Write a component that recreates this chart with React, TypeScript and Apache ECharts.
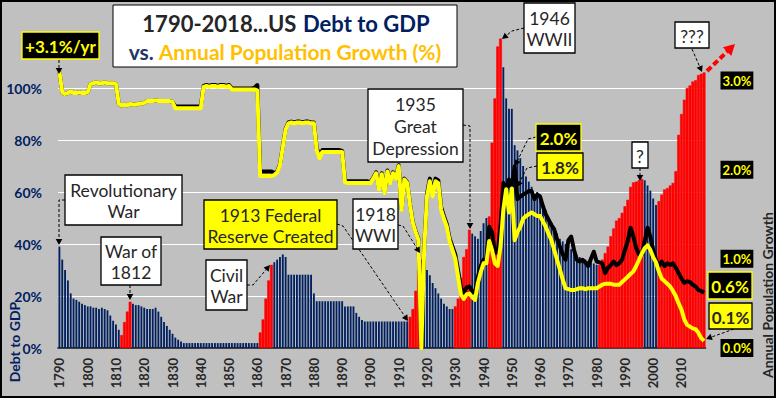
import React, { useEffect, useRef } from 'react';
import * as echarts from 'echarts';

const FIRST_YEAR = 1790;
const LAST_YEAR = 2018;
const years: string[] = [];
for (let y = FIRST_YEAR; y <= LAST_YEAR; y++) years.push(String(y));

// Debt to GDP (%), 1790-2018, one value per year
const debtToGdp: number[] = [
  39, 34, 30, 26, 21, 19, 18.5, 17.8, 17, 16.5, // 1790s
  16, 16, 15.5, 15.5, 15, 15.5, 15, 14.5, 12.5, 10.5, // 1800s
  9, 7, 5, 10, 14, 17.8, 17, 16.5, 16.5, 16, // 1810s
  15.5, 15, 15, 15, 15.5, 14, 12, 10, 8.5, 7, // 1820s
  5.5, 4, 3.2, 2.5, 1.9, 1.9, 1.9, 1.9, 1.9, 1.9, // 1830s
  1.9, 1.9, 1.9, 1.9, 1.9, 1.9, 1.9, 1.9, 1.9, 1.9, // 1840s
  1.9, 1.9, 1.9, 1.9, 1.9, 1.9, 1.9, 1.9, 1.9, 1.9, // 1850s
  1.9, 6, 11, 19, 26, 32, 33, 34, 35, 36, // 1860s
  35, 28.2, 28.2, 28.2, 28.2, 28.2, 28.2, 28.2, 28.2, 28.2, // 1870s
  21, 18, 18, 18, 18, 18, 18, 18, 18, 18, // 1880s
  18, 16, 16, 16, 16, 13.5, 12, 10.8, 10.2, 10.2, // 1890s
  10.2, 10.2, 10.2, 10.2, 10.2, 10.2, 10.2, 10.2, 10.2, 10.2, // 1900s
  10.2, 10.2, 10.2, 10.2, 12, 15, 22, 30, 34, 32, // 1910s
  30, 28, 25, 23, 21, 19, 17, 16, 15, 15, // 1920s
  16, 19, 27, 35, 38, 45.5, 44, 43, 42, 45, // 1930s
  48, 50, 50.6, 79, 96, 116, 119, 108, 96, 92, // 1940s
  92, 78, 76, 73, 70, 66, 64, 62, 59, 60, // 1950s
  59, 55, 53, 50, 48, 46, 44, 42, 41, 40, // 1960s
  39, 38, 36.5, 35.5, 35, 34.5, 34, 33.5, 33, 32.5, // 1970s
  32, 32, 34, 36.5, 39, 43, 46, 49, 50, 52, // 1980s
  54.5, 57, 62, 63.7, 64, 64.5, 65, 64.5, 62.5, 60.5, // 1990s
  57.5, 55, 56.5, 59, 61, 61.5, 62.5, 63.5, 68, 82, // 2000s
  90, 95.5, 100, 101, 102.5, 103, 105, 105.5, 106, // 2010s
];

// periods whose bars are drawn in red
const redPeriods: [number, number][] = [
  [1812, 1815], [1861, 1865], [1914, 1918], [1930, 1935], [1942, 1946], [1981, 1996], [2002, 2018],
];

// Annual population growth (%), yellow line
const popGrowth: number[] = [
  3.1, 2.87, 2.85, 2.86, 2.88, 2.86, 2.86, 2.87, 2.86, 2.86, // 1790s
  2.87, 2.96, 2.97, 2.98, 2.97, 2.97, 2.98, 2.97, 2.97, 2.97, // 1800s
  2.96, 2.74, 2.72, 2.73, 2.72, 2.74, 2.73, 2.73, 2.74, 2.74, // 1810s
  2.75, 2.77, 2.77, 2.77, 2.78, 2.77, 2.77, 2.77, 2.77, 2.77, // 1820s
  2.76, 2.69, 2.69, 2.69, 2.69, 2.69, 2.69, 2.69, 2.69, 2.69, // 1830s
  2.69, 2.93, 2.94, 2.93, 2.94, 2.94, 2.93, 2.94, 2.94, 2.93, // 1840s
  2.94, 2.9, 2.9, 2.9, 2.9, 2.9, 2.9, 2.9, 2.9, 2.9, // 1850s
  2.89, 1.93, 1.93, 1.93, 1.93, 1.93, 1.94, 1.97, 2.05, 2.25, // 1860s
  2.45, 2.52, 2.53, 2.52, 2.53, 2.53, 2.52, 2.53, 2.53, 2.52, // 1870s
  2.52, 2.22, 2.13, 2.2, 2.2, 2.2, 2.2, 2.2, 2.2, 2.2, // 1880s
  2.2, 1.86, 1.85, 1.85, 1.85, 1.85, 1.85, 1.85, 1.85, 1.85, // 1890s
  1.85, 1.9, 1.96, 1.78, 1.95, 1.74, 1.98, 1.85, 1.96, 1.9, // 1900s
  2.04, 1.55, 1.89, 1.85, 1.6, 1.4, 1.3, 1.21, 0.0, 1.1, // 1910s
  1.7, 1.87, 1.7, 1.87, 1.85, 1.55, 1.45, 1.36, 1.2, 1.1, // 1920s
  1.0, 0.8, 0.6, 0.55, 0.6, 0.61, 0.57, 0.54, 0.73, 0.85, // 1930s
  0.95, 0.95, 1.2, 1.1, 0.95, 0.92, 1.14, 1.55, 1.78, 1.52, // 1940s
  1.79, 1.21, 1.3, 1.36, 1.45, 1.48, 1.5, 1.52, 1.5, 1.48, // 1950s
  1.48, 1.42, 1.36, 1.28, 1.21, 1.1, 0.99, 0.88, 0.77, 0.67, // 1960s
  0.66, 0.65, 0.65, 0.66, 0.67, 0.67, 0.66, 0.67, 0.67, 0.67, // 1970s
  0.67, 0.69, 0.71, 0.72, 0.72, 0.72, 0.71, 0.71, 0.71, 0.74, // 1980s
  0.77, 0.8, 0.83, 0.86, 0.92, 0.99, 1.06, 1.12, 1.15, 1.1, // 1990s
  1.02, 0.96, 0.86, 0.78, 0.75, 0.72, 0.69, 0.64, 0.58, 0.5, // 2000s
  0.43, 0.32, 0.26, 0.24, 0.22, 0.21, 0.17, 0.11, 0.08, // 2010s
];

// second growth series, black line
const blackGrowth: number[] = [
  3.1, 2.87, 2.85, 2.86, 2.88, 2.86, 2.86, 2.87, 2.86, 2.86, // 1790s
  2.87, 2.96, 2.97, 2.98, 2.97, 2.97, 2.98, 2.97, 2.97, 2.97, // 1800s
  2.96, 2.74, 2.72, 2.73, 2.72, 2.74, 2.73, 2.73, 2.74, 2.74, // 1810s
  2.75, 2.77, 2.77, 2.77, 2.78, 2.77, 2.77, 2.77, 2.77, 2.77, // 1820s
  2.76, 2.71, 2.71, 2.71, 2.71, 2.71, 2.71, 2.71, 2.71, 2.71, // 1830s
  2.71, 2.94, 2.95, 2.94, 2.95, 2.95, 2.94, 2.95, 2.95, 2.94, // 1840s
  2.95, 2.91, 2.91, 2.91, 2.91, 2.91, 2.91, 2.91, 2.91, 2.92, // 1850s
  2.95, 1.98, 1.98, 1.98, 1.98, 1.98, 1.96, 1.98, 2.06, 2.26, // 1860s
  2.46, 2.53, 2.54, 2.53, 2.54, 2.54, 2.53, 2.54, 2.54, 2.53, // 1870s
  2.53, 2.24, 2.16, 2.22, 2.22, 2.22, 2.22, 2.22, 2.22, 2.22, // 1880s
  2.21, 1.88, 1.87, 1.87, 1.87, 1.87, 1.87, 1.87, 1.87, 1.87, // 1890s
  1.86, 1.91, 1.97, 1.79, 1.96, 1.75, 1.99, 1.86, 1.97, 1.91, // 1900s
  2.05, 1.56, 1.9, 1.86, 1.61, 1.41, 1.31, 1.22, 0.02, 1.12, // 1910s
  1.73, 1.9, 1.73, 1.9, 1.88, 1.58, 1.48, 1.39, 1.23, 1.14, // 1920s
  1.05, 0.87, 0.68, 0.62, 0.68, 0.69, 0.64, 0.62, 0.8, 0.92, // 1930s
  0.99, 1.0, 1.36, 1.3, 1.07, 1.07, 1.36, 1.85, 1.78, 1.89, // 1940s
  1.8, 2.04, 1.67, 1.7, 1.72, 1.74, 1.76, 1.76, 1.67, 1.72, // 1950s
  1.7, 1.59, 1.5, 1.44, 1.38, 1.33, 1.22, 1.14, 1.05, 0.99, // 1960s
  1.21, 1.25, 1.1, 0.99, 0.97, 0.99, 0.96, 0.92, 1.0, 1.08, // 1970s
  0.97, 0.96, 0.95, 0.84, 0.9, 0.93, 0.97, 0.93, 0.95, 0.99, // 1980s
  1.1, 1.2, 1.35, 1.25, 1.12, 1.05, 1.05, 1.2, 1.35, 1.25, // 1990s
  1.1, 0.99, 0.92, 0.97, 0.92, 0.95, 0.93, 0.95, 0.9, 0.84, // 2000s
  0.78, 0.73, 0.75, 0.74, 0.71, 0.69, 0.65, 0.64, 0.62, // 2010s
];

const FONT = 'Lato, "Noto Sans", sans-serif';
const NAVY = '#002060';
const RED = '#FF0000';
const YELLOW = '#FFFF00';
const DARK = '#262626';

type Box = { x: number; y: number; w: number; h: number; text: string; fill: string; stroke: string; color: string; size: number; bold: boolean; lh: number };
const boxes: Box[] = [
  { x: 22, y: 32, w: 77, h: 27, text: '+3.1%/yr', fill: '#000', stroke: YELLOW, color: YELLOW, size: 17, bold: true, lh: 20 },
  { x: 65, y: 175, w: 117, h: 50, text: 'Revolutionary\nWar', fill: '#fff', stroke: '#000', color: DARK, size: 17.5, bold: false, lh: 21 },
  { x: 101, y: 237, w: 60, h: 48, text: 'War of\n1812', fill: '#fff', stroke: '#000', color: DARK, size: 17.5, bold: false, lh: 21 },
  { x: 206, y: 260, w: 41, h: 50, text: 'Civil\nWar', fill: '#fff', stroke: '#000', color: DARK, size: 17.5, bold: false, lh: 21 },
  { x: 204, y: 200, w: 133, h: 49, text: '1913 Federal\nReserve Created', fill: YELLOW, stroke: '#000', color: DARK, size: 17.5, bold: false, lh: 21 },
  { x: 353, y: 199, w: 45, h: 50, text: '1918\nWWI', fill: '#fff', stroke: '#000', color: DARK, size: 17.5, bold: false, lh: 21 },
  { x: 368, y: 89, w: 95, h: 73, text: '1935\nGreat\nDepression', fill: '#fff', stroke: '#000', color: DARK, size: 17.5, bold: false, lh: 22 },
  { x: 524, y: 3, w: 51, h: 50, text: '1946\nWWII', fill: '#fff', stroke: '#000', color: DARK, size: 17.5, bold: false, lh: 21 },
  { x: 536, y: 124, w: 45, h: 27, text: '2.0%', fill: '#000', stroke: YELLOW, color: YELLOW, size: 17, bold: true, lh: 20 },
  { x: 537, y: 153, w: 46, h: 27, text: '1.8%', fill: YELLOW, stroke: '#000', color: DARK, size: 17, bold: true, lh: 20 },
  { x: 632, y: 142, w: 16, h: 26, text: '?', fill: '#fff', stroke: '#000', color: DARK, size: 17.5, bold: false, lh: 20 },
  { x: 675, y: 22, w: 34, h: 26, text: '???', fill: '#fff', stroke: '#000', color: DARK, size: 17.5, bold: false, lh: 20 },
  { x: 708, y: 272, w: 44, h: 27, text: '0.6%', fill: '#000', stroke: YELLOW, color: YELLOW, size: 17, bold: true, lh: 20 },
  { x: 709, y: 303, w: 43, h: 26, text: '0.1%', fill: YELLOW, stroke: '#000', color: DARK, size: 17, bold: true, lh: 20 },
];

type Arrow = { pts: number[][]; color: string; width: number; dash: number[]; head: number };
const arrows: Arrow[] = [
  { pts: [[59, 60], [59, 74]], color: '#000', width: 1, dash: [3, 2], head: 6 },
  { pts: [[65, 200], [59, 200], [59, 245]], color: '#000', width: 1, dash: [3, 2], head: 6 },
  { pts: [[130, 285], [130, 300]], color: '#000', width: 1, dash: [3, 2], head: 6 },
  { pts: [[247, 285], [253, 285], [270, 265]], color: '#000', width: 1, dash: [3, 2], head: 6 },
  { pts: [[337, 224], [343, 226], [408, 321]], color: '#000', width: 1, dash: [3, 2], head: 6 },
  { pts: [[398, 225], [403, 226], [420, 253]], color: '#000', width: 1, dash: [3, 2], head: 6 },
  { pts: [[463, 125], [470, 126], [470, 229]], color: '#000', width: 1, dash: [3, 2], head: 6 },
  { pts: [[524, 28], [512, 31], [502, 39]], color: '#000', width: 1, dash: [3, 2], head: 6 },
  { pts: [[536, 137], [528, 139], [515, 166]], color: '#000', width: 1, dash: [3, 2], head: 6 },
  { pts: [[537, 166], [527, 168], [517, 187]], color: '#000', width: 1, dash: [3, 2], head: 6 },
  { pts: [[640, 168], [640, 181]], color: '#000', width: 1, dash: [3, 2], head: 6 },
  { pts: [[692, 49], [702, 72]], color: '#000', width: 1, dash: [3, 2], head: 6 },
  { pts: [[734, 329], [706, 339]], color: '#000', width: 1, dash: [3, 2], head: 6 },
  { pts: [[707, 71], [735, 44]], color: RED, width: 4, dash: [6, 3], head: 11 },
];

function buildGraphics(): any[] {
  const els: any[] = [];
  els.push({ type: 'rect', shape: { x: 1, y: 1, width: 774, height: 396 }, style: { fill: 'none', stroke: '#000', lineWidth: 2 }, z: 200, silent: true });
  // title
  els.push({ type: 'rect', shape: { x: 113, y: 5, width: 344, height: 62 }, style: { fill: '#fff', stroke: '#000', lineWidth: 1 }, z: 100 });
  els.push({
    type: 'text', z: 101,
    style: {
      x: 286, y: 23, align: 'center', verticalAlign: 'middle',
      text: '{a|1790-2018...US}  {b|Debt to GDP}',
      rich: {
        a: { fill: DARK, font: `bold 22px ${FONT}` },
        b: { fill: NAVY, font: `bold 22px ${FONT}` },
      },
    },
  });
  els.push({
    type: 'text', z: 101,
    style: {
      x: 285, y: 51, align: 'center', verticalAlign: 'middle',
      text: '{a|vs. }{b|Annual Population Growth (%)}',
      rich: {
        a: { fill: '#1F3864', font: `bold 21px ${FONT}` },
        b: { fill: '#FFC000', font: `bold 21px ${FONT}` },
      },
    },
  });
  for (const a of arrows) {
    const n = a.pts.length;
    const tip = a.pts[n - 1];
    const prev = a.pts[n - 2];
    const dx = tip[0] - prev[0];
    const dy = tip[1] - prev[1];
    const len = Math.sqrt(dx * dx + dy * dy) || 1;
    const ux = dx / len;
    const uy = dy / len;
    const hl = a.head;
    const hw = a.head * 0.55;
    const bx = tip[0] - ux * hl;
    const by = tip[1] - uy * hl;
    const linePts = a.pts.slice(0, n - 1).concat([[bx + ux * 1, by + uy * 1]]);
    els.push({ type: 'polyline', z: 99, shape: { points: linePts }, style: { stroke: a.color, lineWidth: a.width, lineDash: a.dash, fill: 'none' } });
    els.push({
      type: 'polygon', z: 99,
      shape: { points: [[tip[0], tip[1]], [bx - uy * hw, by + ux * hw], [bx + uy * hw, by - ux * hw]] },
      style: { fill: a.color, stroke: 'none' },
    });
  }
  for (const b of boxes) {
    els.push({ type: 'rect', z: 100, shape: { x: b.x, y: b.y, width: b.w, height: b.h }, style: { fill: b.fill, stroke: b.stroke, lineWidth: 1.3 } });
    els.push({
      type: 'text', z: 101,
      style: {
        x: b.x + b.w / 2, y: b.y + b.h / 2 + 1, align: 'center', verticalAlign: 'middle',
        text: b.text, fill: b.color, lineHeight: b.lh,
        font: `${b.bold ? 'bold ' : ''}${b.size}px ${FONT}`,
      },
    });
  }
  // axis names
  els.push({
    type: 'text', z: 101, x: 14, y: 342, rotation: Math.PI / 2,
    style: { x: 0, y: 0, align: 'center', verticalAlign: 'middle', text: 'Debt to GDP', fill: NAVY, font: `bold 14px ${FONT}` },
  });
  els.push({
    type: 'text', z: 101, x: 767, y: 295, rotation: Math.PI / 2,
    style: { x: 0, y: 0, align: 'center', verticalAlign: 'middle', text: 'Annual Population Growth', fill: DARK, font: `bold 14px ${FONT}` },
  });
  return els;
}

function isRed(year: number): boolean {
  return redPeriods.some(([a, b]) => year >= a && year <= b);
}

export default function App() {
  const ref = useRef<HTMLDivElement>(null);
  useEffect(() => {
    if (!ref.current) return;
    const chart = echarts.init(ref.current, undefined, { renderer: 'svg' });
    const navyData = debtToGdp.map((v, i) => (isRed(FIRST_YEAR + i) ? null : v));
    const redData = debtToGdp.map((v, i) => (isRed(FIRST_YEAR + i) ? v : null));
    chart.setOption({
      animation: false,
      backgroundColor: '#C0C0C0',
      grid: { left: 58, right: 70.5, top: 36, bottom: 50 },
      xAxis: [
        {
          type: 'category', data: years, boundaryGap: true,
          axisLine: { show: true, lineStyle: { color: '#000', width: 1.5 } },
          axisTick: { show: false },
          axisLabel: {
            interval: (index: number) => index % 10 === 0,
            rotate: 90, margin: 10, color: DARK, fontWeight: 'bold', fontSize: 13, fontFamily: FONT,
          },
          splitLine: { show: false },
        },
        { type: 'category', data: years, boundaryGap: true, show: false },
      ],
      yAxis: [
        {
          type: 'value', min: 0, max: 120, interval: 20,
          axisLine: { show: false }, axisTick: { show: false },
          axisLabel: {
            formatter: (v: number) => `${v}%`, showMaxLabel: false, margin: 16,
            color: NAVY, fontWeight: 'bold', fontSize: 14, fontFamily: FONT,
          },
          splitLine: { show: true, lineStyle: { color: ['#fff', '#fff', '#fff', '#fff', '#fff', '#fff', 'rgba(0,0,0,0)'], width: 1 } },
        },
        {
          type: 'value', min: 0, max: 3.5, interval: 1, position: 'right',
          axisLine: { show: false }, axisTick: { show: false }, splitLine: { show: false },
          axisLabel: {
            formatter: (v: number) => (Number.isInteger(v) ? `${v.toFixed(1)}%` : ''), showMaxLabel: false, margin: 15,
            color: YELLOW, backgroundColor: '#000', padding: [3, 2, 2, 2],
            fontWeight: 'bold', fontSize: 13, fontFamily: FONT,
          },
        },
      ],
      series: [
        {
          name: 'Debt to GDP', type: 'bar', xAxisIndex: 0, yAxisIndex: 0, data: navyData,
          barWidth: '66%', itemStyle: { color: NAVY }, z: 2,
        },
        {
          name: 'Debt to GDP (war/crisis)', type: 'bar', xAxisIndex: 1, yAxisIndex: 0, data: redData,
          barWidth: '100%', itemStyle: { color: RED, borderColor: RED, borderWidth: 0.5 }, z: 2,
        },
        {
          name: 'Growth (black)', type: 'line', xAxisIndex: 0, yAxisIndex: 1, data: blackGrowth,
          showSymbol: false, symbol: 'none', lineStyle: { color: '#000', width: 4, join: 'round' }, z: 3,
        },
        {
          name: 'Annual Population Growth', type: 'line', xAxisIndex: 0, yAxisIndex: 1, data: popGrowth,
          showSymbol: false, symbol: 'none', lineStyle: { color: YELLOW, width: 4, join: 'round' }, z: 4,
        },
      ],
      graphic: buildGraphics(),
    });
    return () => chart.dispose();
  }, []);
  return <div ref={ref} style={{ position: 'fixed', left: 0, top: 0, width: 776, height: 398 }} />;
}
